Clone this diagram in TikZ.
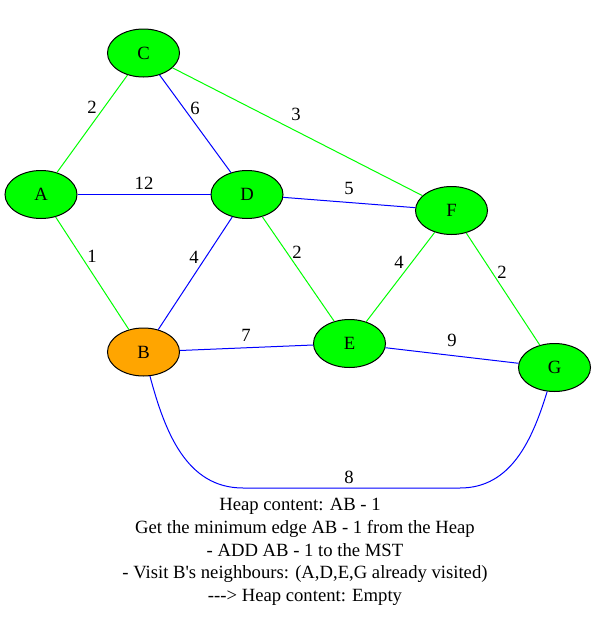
\documentclass[tikz,border=0pt]{standalone}
\usepackage{fontspec}
\setmainfont[Ligatures=TeXOff]{Liberation Serif}
\usetikzlibrary{shapes.geometric}
\definecolor{treegreen}{RGB}{0,255,0}
\definecolor{plainblue}{RGB}{0,0,255}
\definecolor{curorange}{RGB}{255,165,0}

\begin{document}
\begin{tikzpicture}[x=0.75pt, y=-0.75pt, every node/.style={font=\fontsize{14}{17.1}\selectfont},
    vertex/.style={ellipse, draw, line width=0.75pt, fill=treegreen, minimum width=54pt, minimum height=36pt, inner sep=0pt},
    tree/.style={draw=treegreen, line width=0.75pt},
    rest/.style={draw=plainblue, line width=0.75pt},
    wt/.style={inner sep=0pt}]
    \useasboundingbox (0,0) rectangle (596,640);

    \node [vertex] (C) at (143.5,53) {C};
    \node [vertex] (A) at (41,194.5) {A};
    \node [vertex] (D) at (247,194.5) {D};
    \node [vertex] (F) at (451.5,210.5) {F};
    \node [vertex, fill=curorange] (B) at (143.5,352) {B};
    \node [vertex] (E) at (349.5,343.5) {E};
    \node [vertex] (G) at (554.5,367.5) {G};
    \coordinate (bl) at (243,488);
    \coordinate (br) at (460,488);

    \draw [tree] (C) -- (A);
    \draw [rest] (C) -- (D);
    \draw [tree] (C) -- (F);
    \draw [rest] (A) -- (D);
    \draw [tree] (A) -- (B);
    \draw [rest] (D) -- (B);
    \draw [rest] (D) -- (F);
    \draw [tree] (D) -- (E);
    \draw [tree] (F) -- (E);
    \draw [tree] (F) -- (G);
    \draw [rest] (B) -- (E);
    \draw [rest] (E) -- (G);
    \draw [rest] (B) to[out=-75, in=180] (bl) -- (br) to[out=0, in=-107] (G);

    % weights
    \node [wt] (wCA) at (92,107) {2};
    \node [wt] (wCD) at (195,108) {6};
    \node [wt] (wCF) at (296,114) {3};
    \node [wt] (wAD) at (144,183) {12};
    \node [wt] (wAB) at (92,256) {1};
    \node [wt] (wDB) at (194,257) {4};
    \node [wt] (wDF) at (349,188) {5};
    \node [wt] (wDE) at (297,252) {2};
    \node [wt] (wFE) at (399,262) {4};
    \node [wt] (wFG) at (502,272) {2};
    \node [wt] (wBE) at (246,335) {7};
    \node [wt] (wEG) at (452,340) {9};
    \node [wt] (wBG) at (349,477) {8};

    \node [align=center, inner sep=0pt] (info) at (305,552) {Heap content: AB - 1\hspace*{7.5pt}\\
        Get the minimum edge AB - 1 from the Heap\\
        - ADD AB - 1 to the MST\\
        - Visit B's neighbours: (A,D,E,G already visited)\\
        ---> Heap content: Empty};
\end{tikzpicture}
\end{document}
